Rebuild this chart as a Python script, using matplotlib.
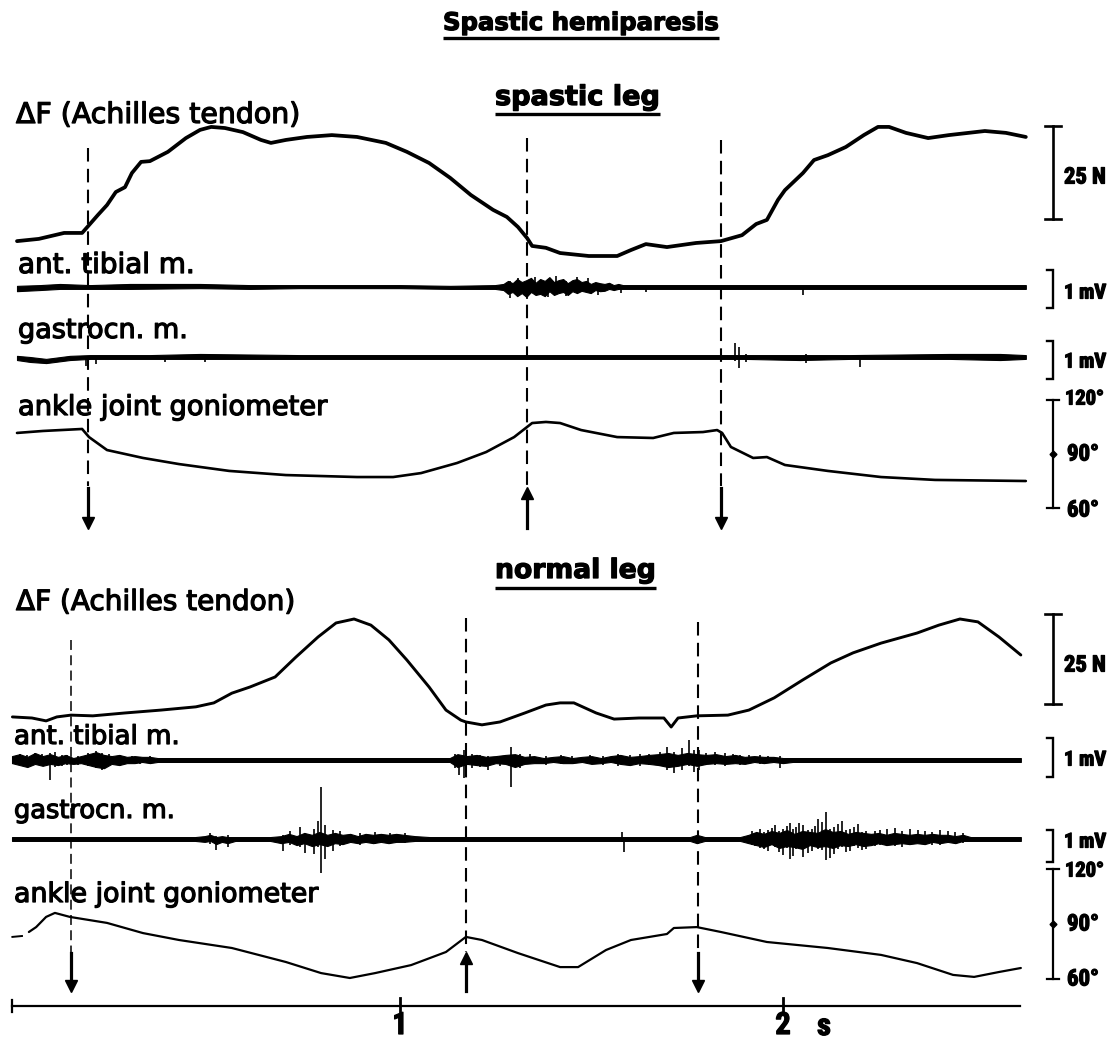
import matplotlib
matplotlib.use("Agg")
import matplotlib.pyplot as plt
from matplotlib import font_manager
import matplotlib.patheffects as pe

# ------------------------------------------------------------------ data
# event markers (s): onset of plantar / dorsal flexion
spastic_events = [0.185, 1.332, 1.838]
spastic_dirs = ["down", "up", "down"]
normal_events = [0.141, 1.172, 1.777]
normal_dirs = ["down", "up", "down"]

time_ticks = [1, 2]
time_tick_labels = ["1", "2"]
time_unit = "s"
time_end = 2.62

# --- spastic leg: Achilles tendon force (N)
sp_force_t = [0.0, 0.057, 0.123, 0.170, 0.188, 0.211, 0.235, 0.258, 0.282, 0.300,
              0.324, 0.347, 0.394, 0.441, 0.478, 0.507, 0.543, 0.590, 0.637, 0.663,
              0.702, 0.757, 0.822, 0.888, 0.963, 1.018, 1.076, 1.131, 1.185, 1.243,
              1.279, 1.308, 1.332, 1.345, 1.381, 1.418, 1.493, 1.567, 1.603, 1.642,
              1.697, 1.773, 1.838, 1.893, 1.930, 1.958, 1.987, 2.005, 2.052, 2.081,
              2.117, 2.164, 2.211, 2.248, 2.277, 2.321, 2.379, 2.433, 2.527, 2.582, 2.634]
sp_force_n = [4.0, 4.6, 6.2, 6.2, 8.3, 11.0, 13.7, 17.2, 18.5, 22.3,
              25.3, 25.5, 28.0, 31.7, 33.9, 34.7, 34.4, 33.3, 31.2, 30.4,
              31.2, 32.0, 32.5, 32.0, 30.4, 28.0, 25.0, 21.0, 16.4, 12.4,
              10.5, 7.8, 4.8, 2.7, 2.2, 0.8, 0.0, 0.0, 1.6, 3.2,
              2.4, 3.5, 4.0, 5.6, 8.6, 9.7, 15.1, 17.7, 22.3, 25.8,
              27.1, 29.3, 32.5, 34.7, 34.7, 33.1, 31.7, 32.5, 33.6, 33.1, 32.0]

# --- spastic leg: ankle joint angle (deg)
sp_gonio_t = [0.0, 0.068, 0.170, 0.188, 0.235, 0.329, 0.423, 0.554, 0.702, 0.888,
              0.982, 1.055, 1.149, 1.225, 1.298, 1.345, 1.381, 1.418, 1.473, 1.567,
              1.661, 1.715, 1.791, 1.828, 1.841, 1.864, 1.922, 1.958, 2.005, 2.117,
              2.256, 2.397, 2.634]
sp_gonio_deg = [101.7, 102.8, 103.9, 99.4, 92.2, 87.8, 84.4, 80.6, 78.3, 77.2,
                77.2, 79.4, 85.0, 91.1, 99.4, 107.2, 107.8, 107.2, 103.3, 99.4,
                98.9, 101.7, 102.2, 103.3, 101.7, 93.9, 87.8, 88.3, 83.9, 80.6,
                77.2, 75.6, 75.0]

# --- spastic leg: tibialis anterior EMG envelope (mV) and single potentials
sp_ta_t = [0.0, 0.060, 0.112, 0.191, 0.295, 0.478, 0.608, 0.739, 0.869, 1.000,
           1.131, 1.248,
           1.270, 1.282, 1.294, 1.306, 1.318, 1.330, 1.342, 1.354, 1.366, 1.378,
           1.390, 1.402, 1.414, 1.426, 1.438, 1.450, 1.462, 1.474, 1.486, 1.498,
           1.510, 1.522, 1.534, 1.546, 1.558, 1.570, 1.582, 1.594,
           1.653, 1.783, 1.836, 2.044, 2.305, 2.567, 2.634]
sp_ta_hi = [0.03, 0.05, 0.08, 0.05, 0.08, 0.08, 0.05, 0.05, 0.05, 0.05,
            0.03, 0.05,
            0.08, 0.16, 0.10, 0.21, 0.13, 0.18, 0.24, 0.11, 0.21, 0.16,
            0.26, 0.13, 0.18, 0.21, 0.10, 0.18, 0.21, 0.13, 0.16, 0.08,
            0.13, 0.10, 0.08, 0.11, 0.05, 0.08, 0.05, 0.05,
            0.05, 0.05, 0.05, 0.05, 0.05, 0.05, 0.05]
sp_ta_lo = [-0.11, -0.08, -0.05, -0.05, -0.05, -0.03, -0.05, -0.03, -0.03, -0.03,
            -0.05, -0.05,
            -0.08, -0.18, -0.13, -0.24, -0.16, -0.26, -0.13, -0.21, -0.18, -0.24,
            -0.11, -0.21, -0.16, -0.13, -0.21, -0.11, -0.16, -0.10, -0.13, -0.16,
            -0.08, -0.11, -0.10, -0.05, -0.08, -0.05, -0.05, -0.05,
            -0.05, -0.05, -0.05, -0.05, -0.05, -0.05, -0.05]
sp_ta_spk_t = [1.287, 1.308, 1.332, 1.352, 1.386, 1.407, 1.433, 1.462, 1.491, 1.517,
               1.577, 1.642, 2.052]
sp_ta_spk_hi = [0.16, 0.24, 0.13, 0.26, 0.18, 0.29, 0.16, 0.26, 0.24, 0.11,
                0.03, 0.03, 0.0]
sp_ta_spk_lo = [-0.29, -0.13, -0.32, -0.16, -0.26, -0.11, -0.24, -0.08, -0.11, -0.21,
                -0.16, -0.13, -0.21]

# --- spastic leg: gastrocnemius EMG
sp_ga_t = [0.0, 0.034, 0.076, 0.138, 0.191, 0.347, 0.478, 0.739, 1.000, 1.261,
           1.522, 1.783, 1.901, 2.044, 2.175, 2.436, 2.567, 2.634]
sp_ga_hi = [0.03, 0.0, -0.05, 0.03, 0.05, 0.05, 0.08, 0.05, 0.05, 0.05,
            0.05, 0.05, 0.05, 0.05, 0.05, 0.08, 0.08, 0.05]
sp_ga_lo = [-0.08, -0.13, -0.16, -0.08, -0.05, -0.05, -0.05, -0.05, -0.05, -0.05,
            -0.05, -0.05, -0.05, -0.08, -0.05, -0.05, -0.08, -0.05]
sp_ga_spk_t = [0.180, 0.206, 0.386, 0.491, 1.875, 1.885, 1.903, 2.060, 2.201]
sp_ga_spk_hi = [0.03, 0.03, 0.03, 0.03, 0.37, 0.26, 0.08, 0.08, 0.03]
sp_ga_spk_lo = [-0.24, -0.18, -0.13, -0.13, -0.11, -0.29, -0.13, -0.16, -0.26]

# --- normal leg: Achilles tendon force (N)
nl_force_t = [-0.012, 0.039, 0.076, 0.104, 0.141, 0.198, 0.282, 0.376, 0.467, 0.514,
              0.561, 0.608, 0.674, 0.728, 0.786, 0.833, 0.880, 0.924, 0.971, 1.018,
              1.076, 1.120, 1.159, 1.172, 1.214, 1.261, 1.326, 1.381, 1.418, 1.454,
              1.512, 1.559, 1.624, 1.689, 1.708, 1.726, 1.775, 1.856, 1.911, 1.977,
              2.052, 2.125, 2.183, 2.256, 2.350, 2.407, 2.462, 2.509, 2.564, 2.621]
nl_force_n = [2.8, 2.5, 1.7, 2.8, 3.3, 3.1, 3.9, 4.7, 5.6, 6.7,
              9.4, 11.1, 13.9, 19.4, 25.0, 28.9, 30.0, 28.3, 24.2, 18.6,
              11.1, 4.7, 1.9, 1.4, 0.6, 1.4, 3.9, 6.1, 6.7, 6.7,
              3.9, 2.2, 2.5, 2.5, 0.0, 2.5, 3.1, 3.3, 4.7, 8.1,
              13.1, 17.8, 20.6, 23.3, 26.1, 28.3, 30.0, 29.2, 25.0, 20.0]

# --- normal leg: ankle joint angle (deg)
nl_gonio_lead_t = [-0.012, 0.013]
nl_gonio_lead_deg = [82.9, 83.4]
nl_gonio_t = [0.031, 0.050, 0.076, 0.099, 0.138, 0.235, 0.329, 0.423, 0.561, 0.702,
              0.794, 0.869, 0.935, 1.029, 1.120, 1.172, 1.214, 1.308, 1.418, 1.465,
              1.538, 1.603, 1.697, 1.715, 1.775, 1.838, 1.958, 2.117, 2.256, 2.350,
              2.444, 2.499, 2.564, 2.621]
nl_gonio_deg = [85.6, 88.3, 93.9, 96.1, 93.9, 90.6, 85.0, 81.2, 76.8, 69.1,
                63.0, 60.3, 63.0, 67.4, 74.6, 82.9, 81.2, 74.0, 66.3, 66.3,
                75.7, 81.2, 84.5, 87.8, 88.3, 85.6, 80.1, 76.8, 73.0, 68.5,
                62.0, 60.9, 63.6, 65.8]

# --- normal leg: tibialis anterior EMG
nl_ta_t = [-0.013, 0.007, 0.027, 0.047, 0.067, 0.087, 0.107, 0.127, 0.147, 0.167,
           0.187, 0.207, 0.227, 0.247, 0.267, 0.287, 0.307, 0.327, 0.347, 0.367,
           0.400, 0.478, 0.739, 1.000, 1.117,
           1.130, 1.150, 1.175, 1.200, 1.225, 1.250, 1.275, 1.300, 1.325, 1.350,
           1.375, 1.400, 1.425, 1.450, 1.475, 1.500, 1.525, 1.550, 1.575, 1.600,
           1.625, 1.650, 1.675, 1.700, 1.725, 1.750, 1.775, 1.800, 1.825, 1.850,
           1.875, 1.900, 1.925, 1.950, 1.975, 2.000, 2.025,
           2.175, 2.436, 2.621]
nl_ta_hi = [0.10, 0.15, 0.08, 0.18, 0.10, 0.15, 0.08, 0.13, 0.05, 0.10,
            0.15, 0.20, 0.13, 0.10, 0.13, 0.08, 0.10, 0.08, 0.08, 0.05,
            0.05, 0.05, 0.05, 0.05, 0.05,
            0.05, 0.15, 0.10, 0.13, 0.08, 0.10, 0.13, 0.15, 0.08, 0.10,
            0.05, 0.08, 0.10, 0.05, 0.08, 0.10, 0.05, 0.10, 0.13, 0.08,
            0.10, 0.13, 0.15, 0.18, 0.13, 0.18, 0.15, 0.13, 0.15, 0.10,
            0.13, 0.08, 0.10, 0.08, 0.08, 0.05, 0.05,
            0.05, 0.05, 0.05]
nl_ta_lo = [-0.08, -0.13, -0.18, -0.10, -0.15, -0.10, -0.13, -0.08, -0.10, -0.08,
            -0.13, -0.18, -0.21, -0.10, -0.13, -0.08, -0.08, -0.05, -0.08, -0.05,
            -0.05, -0.05, -0.05, -0.05, -0.05,
            -0.05, -0.18, -0.10, -0.13, -0.15, -0.08, -0.10, -0.18, -0.10, -0.08,
            -0.08, -0.05, -0.08, -0.08, -0.05, -0.10, -0.08, -0.05, -0.10, -0.13,
            -0.08, -0.10, -0.13, -0.18, -0.15, -0.10, -0.15, -0.10, -0.08, -0.10,
            -0.08, -0.10, -0.05, -0.08, -0.05, -0.08, -0.05,
            -0.05, -0.05, -0.05]
nl_ta_spk_t = [0.008, 0.025, 0.047, 0.065, 0.086, 0.100, 0.117, 0.130, 0.160, 0.185,
               0.206, 0.222, 0.240, 0.269, 0.300, 0.320, 0.347,
               1.144, 1.154, 1.167, 1.188, 1.210, 1.230, 1.261, 1.290, 1.313, 1.340,
               1.380, 1.420, 1.450, 1.496, 1.530, 1.569, 1.600, 1.627, 1.650,
               1.679, 1.697, 1.715, 1.736, 1.755, 1.768, 1.781, 1.800, 1.822, 1.849,
               1.870, 1.888, 1.910, 1.940, 1.960, 1.992]
nl_ta_spk_hi = [0.15, 0.13, 0.18, 0.15, 0.18, 0.21, 0.13, 0.13, 0.10, 0.18,
                0.23, 0.18, 0.15, 0.13, 0.10, 0.08, 0.10,
                0.15, 0.13, 0.26, 0.15, 0.13, 0.10, 0.10, 0.33, 0.15, 0.15,
                0.10, 0.13, 0.10, 0.13, 0.10, 0.15, 0.13, 0.15, 0.15,
                0.21, 0.33, 0.21, 0.31, 0.51, 0.26, 0.26, 0.18, 0.21, 0.18,
                0.15, 0.13, 0.13, 0.13, 0.10, 0.10]
nl_ta_spk_lo = [-0.13, -0.15, -0.10, -0.10, -0.51, -0.18, -0.15, -0.13, -0.13, -0.15,
                -0.21, -0.26, -0.10, -0.15, -0.08, -0.10, -0.10,
                -0.21, -0.38, -0.46, -0.21, -0.18, -0.26, -0.15, -0.69, -0.21, -0.10,
                -0.13, -0.10, -0.08, -0.10, -0.13, -0.15, -0.15, -0.15, -0.13,
                -0.15, -0.26, -0.33, -0.26, -0.15, -0.31, -0.26, -0.13, -0.13, -0.15,
                -0.10, -0.13, -0.10, -0.10, -0.08, -0.21]

# --- normal leg: gastrocnemius EMG
nl_ga_t = [-0.013, 0.217, 0.465, 0.490, 0.505, 0.520, 0.535, 0.550, 0.570, 0.661,
           0.690, 0.710, 0.730, 0.750, 0.770, 0.790, 0.810, 0.830, 0.850, 0.870,
           0.890, 0.910, 0.930, 0.950, 0.970, 0.990, 1.010, 1.039, 1.078, 1.522,
           1.757, 1.775, 1.796, 1.888,
           1.910, 1.930, 1.950, 1.970, 1.990, 2.010, 2.030, 2.050, 2.070, 2.090,
           2.110, 2.130, 2.150, 2.170, 2.190, 2.210, 2.230, 2.250, 2.270, 2.290,
           2.310, 2.330, 2.350, 2.370, 2.390, 2.410, 2.430, 2.450, 2.470, 2.490,
           2.530, 2.621]
nl_ga_hi = [0.06, 0.06, 0.06, 0.09, 0.13, 0.06, 0.09, 0.06, 0.06, 0.06,
            0.09, 0.16, 0.09, 0.19, 0.13, 0.22, 0.13, 0.19, 0.13, 0.16,
            0.09, 0.16, 0.13, 0.16, 0.13, 0.16, 0.13, 0.09, 0.06, 0.06,
            0.06, 0.13, 0.06, 0.06,
            0.13, 0.22, 0.16, 0.25, 0.19, 0.28, 0.16, 0.25, 0.22, 0.19,
            0.31, 0.22, 0.25, 0.16, 0.22, 0.19, 0.16, 0.19, 0.13, 0.19,
            0.16, 0.13, 0.16, 0.13, 0.16, 0.13, 0.13, 0.09, 0.13, 0.06,
            0.06, 0.06]
nl_ga_lo = [-0.06, -0.06, -0.06, -0.09, -0.06, -0.16, -0.09, -0.13, -0.06, -0.06,
            -0.13, -0.09, -0.19, -0.13, -0.22, -0.16, -0.22, -0.13, -0.16, -0.09,
            -0.13, -0.09, -0.13, -0.09, -0.13, -0.09, -0.09, -0.06, -0.06, -0.06,
            -0.06, -0.13, -0.06, -0.06,
            -0.13, -0.19, -0.25, -0.16, -0.28, -0.22, -0.25, -0.31, -0.19, -0.25,
            -0.22, -0.28, -0.19, -0.22, -0.16, -0.22, -0.19, -0.13, -0.19, -0.16,
            -0.13, -0.16, -0.13, -0.16, -0.09, -0.13, -0.09, -0.13, -0.06, -0.06,
            -0.06, -0.06]
nl_ga_spk_t = [0.504, 0.520, 0.551, 0.695, 0.713, 0.739, 0.752, 0.775, 0.786, 0.794,
               0.804, 0.825, 0.843, 0.896, 0.935, 0.974, 1.013, 1.580, 1.585,
               1.919, 1.928, 1.940, 1.950, 1.961, 1.970, 1.979, 1.990, 2.000, 2.010,
               2.018, 2.026, 2.034, 2.043, 2.052, 2.064, 2.076, 2.084, 2.091, 2.102,
               2.112, 2.122, 2.133, 2.143, 2.154, 2.164, 2.175, 2.186, 2.196, 2.206,
               2.217, 2.240, 2.253, 2.272, 2.292, 2.312, 2.332, 2.352, 2.371, 2.390,
               2.410, 2.430, 2.449, 2.470]
nl_ga_spk_hi = [0.19, 0.09, 0.13, 0.13, 0.25, 0.38, 0.19, 0.31, 0.56, 1.63,
                0.44, 0.28, 0.25, 0.19, 0.22, 0.19, 0.19, 0.22, 0.03,
                0.25, 0.19, 0.31, 0.22, 0.28, 0.34, 0.44, 0.25, 0.31, 0.41,
                0.50, 0.31, 0.38, 0.50, 0.44, 0.28, 0.31, 0.41, 0.63, 0.53,
                0.84, 0.31, 0.38, 0.47, 0.56, 0.28, 0.31, 0.38, 0.47, 0.22,
                0.25, 0.25, 0.28, 0.31, 0.34, 0.25, 0.31, 0.28, 0.25, 0.22,
                0.28, 0.25, 0.22, 0.19]
nl_ga_spk_lo = [-0.16, -0.34, -0.25, -0.38, -0.19, -0.25, -0.44, -0.47, -0.25, -1.06,
                -0.63, -0.38, -0.22, -0.19, -0.16, -0.16, -0.13, -0.09, -0.41,
                -0.19, -0.22, -0.28, -0.31, -0.38, -0.19, -0.25, -0.41, -0.50, -0.28,
                -0.63, -0.53, -0.31, -0.25, -0.56, -0.44, -0.38, -0.22, -0.31, -0.34,
                -0.66, -0.59, -0.47, -0.31, -0.25, -0.41, -0.38, -0.22, -0.28, -0.34,
                -0.31, -0.22, -0.19, -0.16, -0.22, -0.25, -0.19, -0.13, -0.16, -0.19,
                -0.19, -0.13, -0.16, -0.13]

# scale bars
force_bar_n = 25
emg_bar_mv = 1
gonio_bar_deg = [60, 90, 120]

# ------------------------------------------------------------------ layout
W, H, DPI = 1120, 1041, 100
PX0, PPS = 17.0, 383.0          # pixel column of t = 0 and pixels per second
T_BAR = (1053 - PX0) / PPS      # column of the calibration bars
T_CAP = 8 / PPS
T_TICK = 6 / PPS

available = {f.name for f in font_manager.fontManager.ttflist}
LABEL_FONT = "DejaVu Sans"
NARROW_FONT = next((f for f in ["Liberation Sans Narrow", "DejaVu Sans Condensed",
                                "Roboto Condensed", "DejaVu Sans"] if f in available),
                   "DejaVu Sans")
HEAVY = [pe.withStroke(linewidth=0.9, foreground="black")]

fig = plt.figure(figsize=(W / DPI, H / DPI), dpi=DPI)
fig.patch.set_facecolor("white")


def blank_axes():
    ax = fig.add_axes([0, 0, 1, 1])
    ax.set_axis_off()
    ax.patch.set_alpha(0)
    return ax


def trace_axes(zero_px, px_per_unit, zero_value=0.0):
    """Full-figure axes: time on x, a physical unit on y."""
    ax = blank_axes()
    ax.set_xlim(-PX0 / PPS, (W - PX0) / PPS)
    ax.set_ylim(zero_value - (H - zero_px) / px_per_unit,
                zero_value + zero_px / px_per_unit)
    return ax


px_ax = blank_axes()                       # pixel grid for labels
px_ax.set_xlim(0, W)
px_ax.set_ylim(H, 0)

ev_ax = blank_axes()                       # time on x, pixel rows on y
ev_ax.set_xlim(-PX0 / PPS, (W - PX0) / PPS)
ev_ax.set_ylim(H, 0)

renderer = fig.canvas.get_renderer()


def fit_text(s, x0, x1, y, family=LABEL_FONT, weight="normal", va="baseline",
             heavy=True):
    t = px_ax.text(x0, y, s, fontsize=20, family=family, fontweight=weight,
                   va=va, ha="left", color="black")
    w = t.get_window_extent(renderer).width
    t.set_fontsize(20 * (x1 - x0) / w)
    if heavy:
        t.set_path_effects(HEAVY)
    return t


def underline(x0, x1, y):
    px_ax.plot([x0, x1], [y, y], color="black", lw=2.4, solid_capstyle="butt")


LINE = dict(color="black", solid_joinstyle="round", solid_capstyle="round")


def draw_force(ax, t, f, lw, bar_lo):
    ax.plot(t, f, lw=lw, **LINE)
    ax.plot([T_BAR, T_BAR], [bar_lo, bar_lo + force_bar_n], lw=1.9, color="black")
    for y in (bar_lo, bar_lo + force_bar_n):
        ax.plot([T_BAR - T_CAP, T_BAR + T_CAP], [y, y], lw=1.9, color="black")


def draw_emg(ax, t, hi, lo, st, shi, slo, bar_top):
    ax.fill_between(t, lo, hi, color="black", lw=0.8, edgecolor="black")
    ax.vlines(st, slo, shi, color="black", lw=1.2)
    b0, b1 = bar_top - emg_bar_mv, bar_top
    ax.plot([T_BAR - T_TICK, T_BAR, T_BAR, T_BAR - T_TICK], [b1, b1, b0, b0],
            lw=1.7, color="black", solid_joinstyle="miter")


def draw_gonio(ax, t, a, lw):
    ax.plot(t, a, lw=lw, **LINE)
    lo, mid, hi = gonio_bar_deg
    ax.plot([T_BAR, T_BAR], [lo, hi], lw=1.6, color="black")
    for y in (lo, hi):
        ax.plot([T_BAR - T_TICK, T_BAR + T_TICK], [y, y], lw=1.6, color="black")
    ax.plot([T_BAR], [mid], marker="D", ms=3.5, color="black")


def draw_events(times, dirs, tops, y_dash_end, y_shaft, y_tip, widths):
    for t, d, top, lw in zip(times, dirs, tops, widths):
        ev_ax.plot([t, t], [top, y_dash_end], color="black", lw=lw,
                   ls=(0, (6.5, 3.5)))
        if d == "down":
            ev_ax.plot([t, t], [y_shaft, y_tip - 8], color="black", lw=2.3)
            ev_ax.plot([t], [y_tip - 5], marker="v", ms=8.5, color="black")
        else:
            ev_ax.plot([t, t], [y_shaft + 8, y_tip], color="black", lw=2.3)
            ev_ax.plot([t], [y_shaft + 5], marker="^", ms=8.5, color="black")


# ------------------------------------------------------------------ headings
fit_text("Spastic hemiparesis", 443, 719, 30, weight="bold")
underline(443, 719, 38)
fit_text("spastic leg", 495, 660, 105, weight="bold")
underline(495, 660, 114)
fit_text("normal leg", 495, 656, 578, weight="bold")
underline(495, 656, 588)

# ------------------------------------------------------------------ spastic leg
fit_text("\u0394F (Achilles tendon)", 16, 300, 123)
fit_text("ant. tibial m.", 18, 195, 273)
fit_text("gastrocn. m.", 18, 188, 338)
fit_text("ankle joint goniometer", 18, 327, 415)

ax = trace_axes(256, 93 / 25)
draw_force(ax, sp_force_t, sp_force_n, 2.7, 10.0)
ax = trace_axes(287, 38)
draw_emg(ax, sp_ta_t, sp_ta_hi, sp_ta_lo, sp_ta_spk_t, sp_ta_spk_hi, sp_ta_spk_lo, 0.45)
ax = trace_axes(357, 38)
draw_emg(ax, sp_ga_t, sp_ga_hi, sp_ga_lo, sp_ga_spk_t, sp_ga_spk_hi, sp_ga_spk_lo, 0.42)
ax = trace_axes(454, 1.8, 90)
draw_gonio(ax, sp_gonio_t, sp_gonio_deg, 1.9)

draw_events(spastic_events, spastic_dirs, [148, 138, 140], 486, 488, 528,
            [1.5, 1.5, 1.5])

fit_text("25 N", 1064, 1106, 177, family=NARROW_FONT, weight="bold", va="center")
fit_text("1 mV", 1064, 1106, 293, family=NARROW_FONT, weight="bold", va="center")
fit_text("1 mV", 1064, 1106, 362, family=NARROW_FONT, weight="bold", va="center")
fit_text("120\u00b0", 1065, 1104, 399, family=NARROW_FONT, weight="bold", va="center")
fit_text("90\u00b0", 1067, 1099, 454, family=NARROW_FONT, weight="bold", va="center")
fit_text("60\u00b0", 1067, 1099, 510, family=NARROW_FONT, weight="bold", va="center")

# ------------------------------------------------------------------ normal leg
fit_text("\u0394F (Achilles tendon)", 16, 295, 610)
fit_text("ant. tibial m.", 14, 180, 744)
fit_text("gastrocn. m.", 14, 175, 818)
fit_text("ankle joint goniometer", 14, 318, 902)

ax = trace_axes(727, 90 / 25)
draw_force(ax, nl_force_t, nl_force_n, 2.1, 6.5)
ax = trace_axes(760, 39)
draw_emg(ax, nl_ta_t, nl_ta_hi, nl_ta_lo, nl_ta_spk_t, nl_ta_spk_hi, nl_ta_spk_lo, 0.56)
ax = trace_axes(839, 32)
draw_emg(ax, nl_ga_t, nl_ga_hi, nl_ga_lo, nl_ga_spk_t, nl_ga_spk_hi, nl_ga_spk_lo, 0.28)
ax = trace_axes(924, 30 / 16.5, 90)
draw_gonio(ax, nl_gonio_t, nl_gonio_deg, 1.6)
ax.plot(nl_gonio_lead_t, nl_gonio_lead_deg, lw=1.4, color="black")

draw_events(normal_events, normal_dirs, [640, 618, 622], 952, 953, 991,
            [1.1, 1.5, 1.5])

fit_text("25 N", 1064, 1106, 665, family=NARROW_FONT, weight="bold", va="center")
fit_text("1 mV", 1064, 1106, 760, family=NARROW_FONT, weight="bold", va="center")
fit_text("1 mV", 1064, 1106, 842, family=NARROW_FONT, weight="bold", va="center")
fit_text("120\u00b0", 1065, 1104, 871, family=NARROW_FONT, weight="bold", va="center")
fit_text("90\u00b0", 1067, 1099, 924, family=NARROW_FONT, weight="bold", va="center")
fit_text("60\u00b0", 1067, 1099, 979, family=NARROW_FONT, weight="bold", va="center")

# ------------------------------------------------------------------ time axis
AX_Y = 1006
ev_ax.plot([-0.013, time_end], [AX_Y, AX_Y], color="black", lw=1.6)
ev_ax.plot([-0.013, -0.013], [AX_Y - 6, AX_Y + 6], color="black", lw=1.6)
for tk, lab in zip(time_ticks, time_tick_labels):
    ev_ax.plot([tk, tk], [AX_Y - 8, AX_Y + 8], color="black", lw=2.0)
    ev_ax.text(tk, 1025, lab, ha="center", va="center", family=NARROW_FONT,
               fontweight="bold", fontsize=22, path_effects=HEAVY)
ev_ax.text(time_ticks[-1] + 0.107, 1026, time_unit, ha="center", va="center",
           family=NARROW_FONT, fontweight="bold", fontsize=22, path_effects=HEAVY)

fig.savefig("out.png", dpi=DPI, facecolor="white")
